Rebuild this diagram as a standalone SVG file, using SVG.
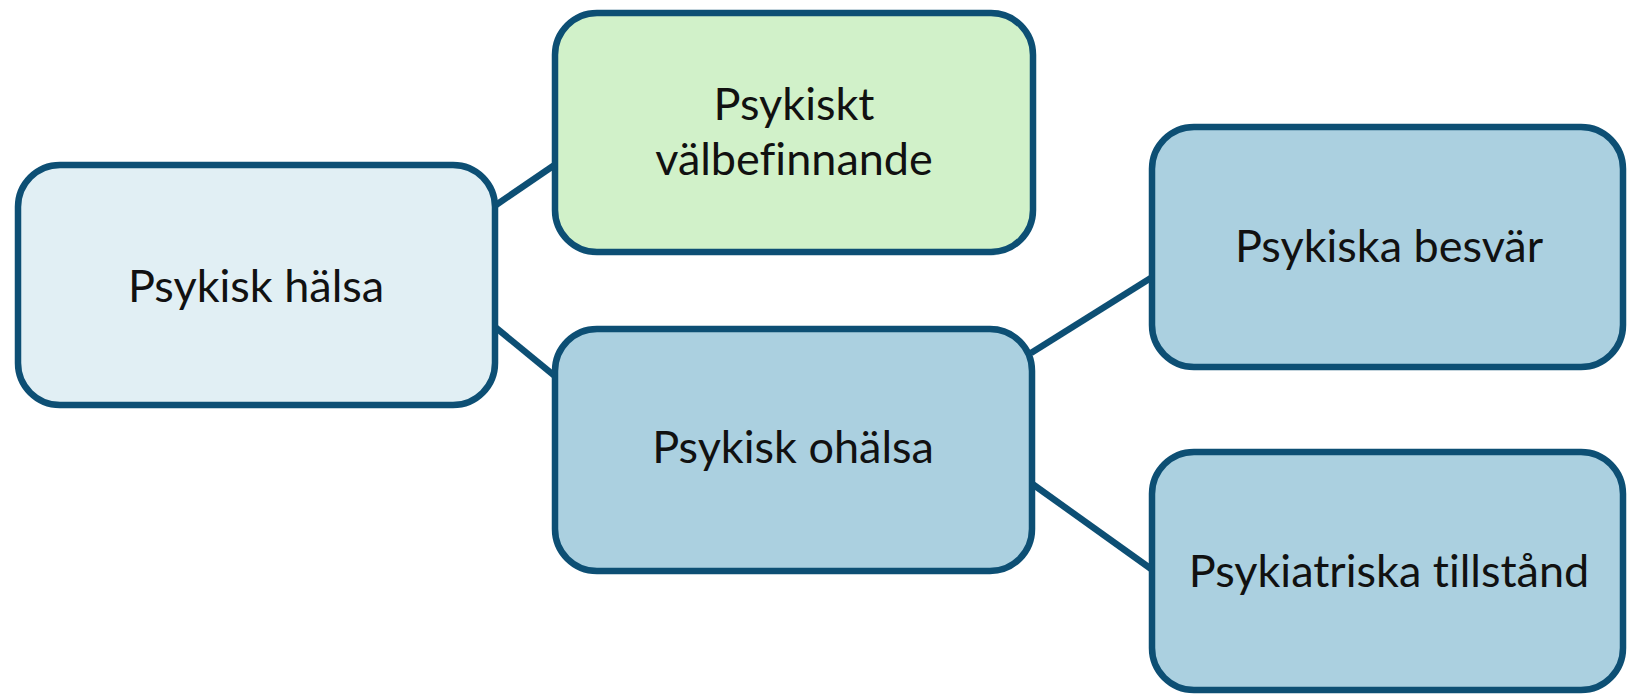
<svg xmlns="http://www.w3.org/2000/svg" width="1628" height="695" viewBox="0 0 1628 695">
<style>
.box{stroke:#0d4f74;stroke-width:6.5}
.light{fill:#e1eff4}
.green{fill:#d1f1c9}
.blue{fill:#abd0e0}
.lbl{font-family:Lato,"Liberation Sans",sans-serif;font-size:45px;fill:#111;text-anchor:middle;font-variant-ligatures:none}
.conn{stroke:#0d4f74;stroke-width:6.5;fill:none}
</style>
<rect width="1628" height="695" fill="#fff"/>
<g id="connectors">
<line class="conn" x1="496" y1="205" x2="556" y2="164"/>
<line class="conn" x1="489" y1="322" x2="556" y2="377"/>
<line class="conn" x1="1031" y1="353" x2="1154" y2="276"/>
<line class="conn" x1="1031" y1="483" x2="1154" y2="571"/>
</g>
<g id="node-halsa">
<rect class="box light" x="18" y="165" width="477" height="240" rx="42"/>
<text class="lbl" x="256" y="302">Psykisk hälsa</text>
</g>
<g id="node-valbefinnande">
<rect class="box green" x="555" y="13" width="478" height="239" rx="42"/>
<text class="lbl" x="794" y="120">Psykiskt</text>
<text class="lbl" x="794" y="175">välbefinnande</text>
</g>
<g id="node-ohalsa">
<rect class="box blue" x="555" y="329" width="477" height="242" rx="42"/>
<text class="lbl" x="793" y="463">Psykisk ohälsa</text>
</g>
<g id="node-besvar">
<rect class="box blue" x="1152" y="127" width="471" height="240" rx="42"/>
<text class="lbl" x="1389" y="262">Psykiska besvär</text>
</g>
<g id="node-tillstand">
<rect class="box blue" x="1152" y="452" width="471" height="238" rx="42"/>
<text class="lbl" x="1389" y="587">Psykiatriska tillstånd</text>
</g>
</svg>
